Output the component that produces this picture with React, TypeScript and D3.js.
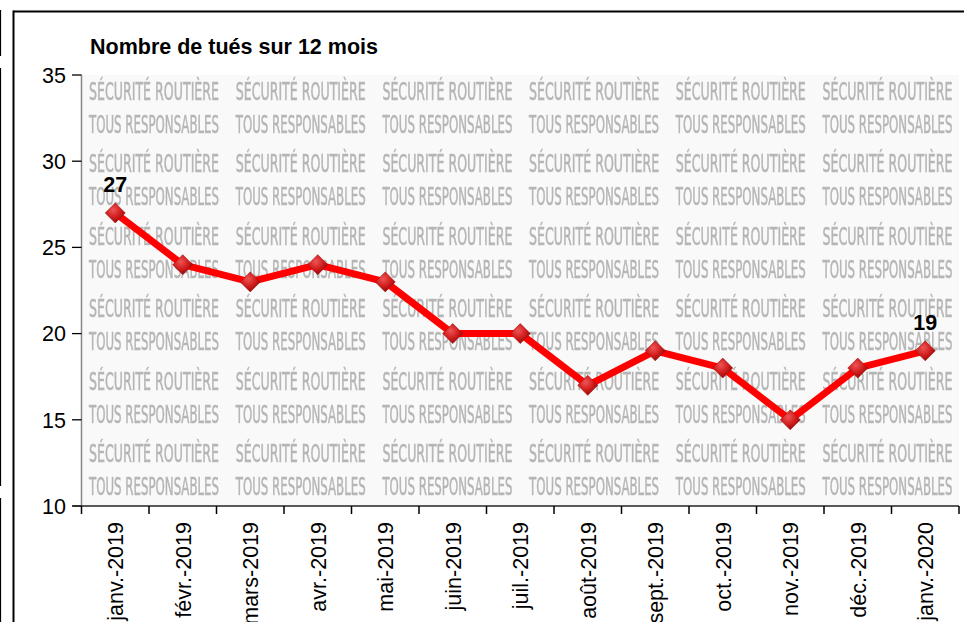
import React from "react";
import * as d3 from "d3";

const categories = [
  "janv.-2019", "févr.-2019", "mars-2019", "avr.-2019", "mai-2019", "juin-2019",
  "juil.-2019", "août-2019", "sept.-2019", "oct.-2019", "nov.-2019", "déc.-2019", "janv.-2020",
];
const values = [27, 24, 23, 24, 23, 20, 20, 17, 19, 18, 15, 18, 19];
const yTicks = [10, 15, 20, 25, 30, 35];
const labelled = [0, 12];
const title = "Nombre de tués sur 12 mois";
const wmLine1 = "SÉCURITÉ ROUTIÈRE";
const wmLine2 = "TOUS RESPONSABLES";

const W = 964, H = 622;
const plot = { left: 81.5, right: 959, top: 75, bottom: 506 };

export default function App() {
  const x = d3.scaleBand<string>().domain(categories).range([plot.left, plot.right]).padding(0);
  const y = d3.scaleLinear().domain([10, 35]).range([plot.bottom, plot.top]);
  const cx = (i: number) => (x(categories[i]) as number) + x.bandwidth() / 2;
  const line = d3.line<number>().x((_, i) => cx(i)).y((v) => y(v));
  const font = "'Liberation Sans', Arial, sans-serif";
  const fs = 21.5;

  const wmCols = d3.range(6).map((i) => 89 + i * 146.7);
  const wmRows = d3.range(6).map((j) => 100 + j * 72.4);
  const boundaries = d3.range(categories.length + 1).map((i) => plot.left + i * x.bandwidth());

  return (
    <svg width={W} height={H} style={{ position: "absolute", left: 0, top: 0, background: "#fff" }}>
      <defs>
        <filter id="blur" x="-5%" y="-20%" width="110%" height="140%">
          <feGaussianBlur stdDeviation="0.7" />
        </filter>
        <radialGradient id="mk" cx="40%" cy="35%" r="70%">
          <stop offset="0%" stopColor="#ee5555" />
          <stop offset="55%" stopColor="#d01c1c" />
          <stop offset="100%" stopColor="#8a0808" />
        </radialGradient>
      </defs>
      <rect x={0} y={0} width={W} height={H} fill="#fff" />
      {/* cropped neighbouring frame lines */}
      <line x1={0.5} x2={0.5} y1={10} y2={56} stroke="#000" strokeWidth={1.2} />
      <line x1={0.5} x2={0.5} y1={68} y2={486} stroke="#000" strokeWidth={1.2} />
      <line x1={0.5} x2={0.5} y1={498} y2={H} stroke="#000" strokeWidth={1.2} />
      {/* frame */}
      <line x1={13.5} x2={13.5} y1={10.5} y2={H} stroke="#000" strokeWidth={2} />
      <line x1={13.5} x2={W} y1={11.5} y2={11.5} stroke="#000" strokeWidth={2} />

      <text x={90} y={54} fontFamily={font} fontWeight="bold" fontSize={fs} fill="#000">{title}</text>

      {/* plot background with watermark */}
      <rect x={plot.left} y={plot.top} width={plot.right - plot.left} height={plot.bottom - plot.top} fill="#f9f9f9" />
      <g filter="url(#blur)" fill="#b4b4b4" stroke="#bababa" strokeWidth={0.6}
        fontFamily="'Liberation Sans Narrow', 'DejaVu Sans Condensed', sans-serif" fontSize={24}>
        {wmRows.map((ry, j) =>
          wmCols.map((rx, i) => (
            <g key={`${i}-${j}`}>
              <text x={rx} y={ry} textLength={130} lengthAdjust="spacingAndGlyphs">{wmLine1}</text>
              <text x={rx} y={ry + 33} textLength={130} lengthAdjust="spacingAndGlyphs">{wmLine2}</text>
            </g>
          ))
        )}
      </g>

      {/* y axis */}
      <line x1={plot.left} x2={plot.left} y1={plot.top} y2={plot.bottom} stroke="#888" strokeWidth={1.5} />
      {yTicks.map((t) => (
        <g key={t}>
          <line x1={72} x2={plot.left} y1={y(t)} y2={y(t)} stroke="#000" strokeWidth={1.3} />
          <text x={66} y={y(t)} dy="0.36em" textAnchor="end" fontFamily={font} fontSize={fs} fill="#000">{t}</text>
        </g>
      ))}
      {/* x axis */}
      <line x1={plot.left - 9} x2={plot.right} y1={plot.bottom} y2={plot.bottom} stroke="#222" strokeWidth={1.5} />
      {boundaries.map((bx, i) => (
        <line key={i} x1={bx} x2={bx} y1={plot.bottom} y2={plot.bottom + 8} stroke="#000" strokeWidth={1.5} />
      ))}
      {categories.map((c, i) => (
        <text key={c} transform={`translate(${cx(i)},522) rotate(-90)`} dy="0.36em" textAnchor="end"
          fontFamily={font} fontSize={fs} fill="#000">{c}</text>
      ))}

      {/* series */}
      <path d={line(values) as string} fill="none" stroke="#ff0000" strokeWidth={7} strokeLinejoin="round" />
      {values.map((v, i) => (
        <path key={i} transform={`translate(${cx(i)},${y(v)})`} d="M0,-10 L10,0 L0,10 L-10,0 Z" fill="url(#mk)" stroke="#a01010" strokeWidth={0.6} />
      ))}
      {labelled.map((i) => (
        <text key={i} x={cx(i)} y={y(values[i]) - 21} textAnchor="middle" fontFamily={font} fontWeight="bold" fontSize={fs} fill="#000">{values[i]}</text>
      ))}
    </svg>
  );
}
